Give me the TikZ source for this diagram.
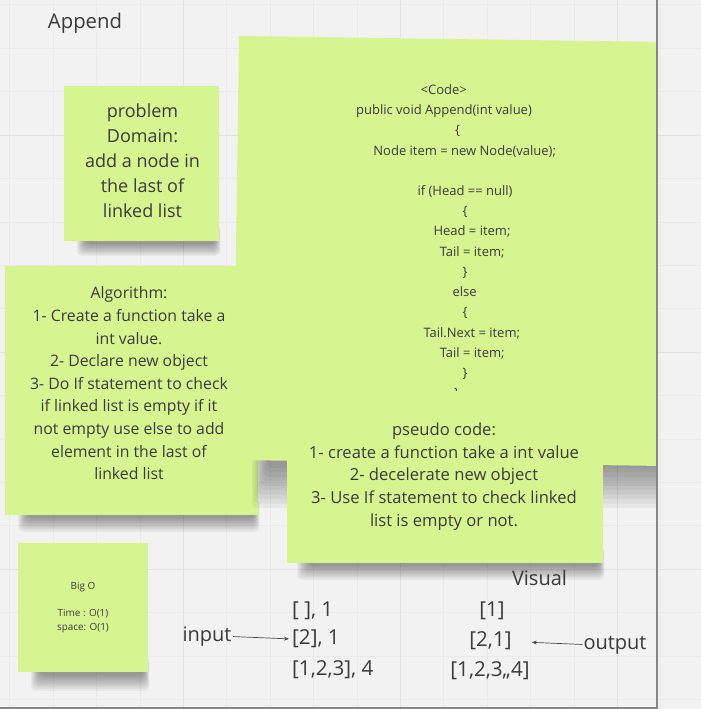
\documentclass[tikz,border=0pt]{standalone}
\usepackage{fontspec}
\setmainfont{Open Sans}
\usetikzlibrary{arrows.meta}
\definecolor{bg}{HTML}{F2F2F2}
\definecolor{gridmin}{HTML}{EAEAEA}
\definecolor{gridmaj}{HTML}{E2E2E2}
\definecolor{note}{HTML}{D6F590}
\definecolor{ink}{HTML}{3A3A3A}
\definecolor{framec}{HTML}{858585}
\definecolor{arrowc}{HTML}{4A4A4A}
\newcommand\myshadow[5]{% left, right, bottom, spread, left spread
  \foreach \k in {0,...,9}
    \fill[black,opacity=0.045,rounded corners=5pt]
      ({#1+22-#5*\k/9},{#3-8-\k}) rectangle ({#2-4+0.6*\k},{#3+3+#4*\k/9});
}
\begin{document}
\begin{tikzpicture}[x=1pt,y=-1pt,
  notebox/.style={draw=none,fill=note,inner sep=0pt},
  ln/.style={text=ink,inner sep=0pt,text height=1.1em,text depth=0.04em},
  fpd/.style={ln,font=\fontsize{18}{25}\selectfont},
  falg/.style={ln,font=\fontsize{15.8}{22}\selectfont},
  fcode/.style={ln,font=\fontsize{13}{20}\selectfont},
  fps/.style={ln,font=\fontsize{16.6}{22}\selectfont},
  fbig/.style={ln,font=\fontsize{9.9}{13}\selectfont},
  flbl/.style={ln,font=\fontsize{20}{24}\selectfont},
  flist/.style={ln,font=\fontsize{20.6}{24}\selectfont},
  conn/.style={draw=arrowc,line width=0.7pt,-{Stealth[length=5pt,width=4pt]}}
]
\fill[bg] (0,0) rectangle (701,709);
\useasboundingbox (0,0) rectangle (701,709);
% grid
\foreach \i in {0,...,16} {
  \draw[gridmin,line width=0.6pt] ({9.7+43.4*\i},0) -- ({9.7+43.4*\i},709);
  \draw[gridmin,line width=0.6pt] (0,{4.8+43.4*\i}) -- (701,{4.8+43.4*\i});
}
\foreach \v in {183.3,400.3,617.3} \draw[gridmaj,line width=1pt] (\v,0) -- (\v,709);
\foreach \v in {135,352,569} \draw[gridmaj,line width=1pt] (0,\v) -- (701,\v);

\begin{scope}
\clip (0,0) rectangle (656.5,707);
% problem domain note
\myshadow{64}{219}{241}{12}{9}
\node[notebox,minimum width=155pt,minimum height=155pt] (pd) at (141.5,163.5) {};
\foreach \y/\t [count=\n] in {112/problem,137/Domain:,162/add a node in,187/the last of,212/linked list}
  \node[fpd] (pd\n) at (142.5,\y) {\t};

% algorithm note
\myshadow{5}{258}{515}{14}{9}
\node[notebox,minimum width=253pt,minimum height=249pt] (alg) at (131.5,390.5) {};
\foreach \y/\t [count=\n] in {293.5/Algorithm:,316/1- Create a function take a,338.7/int value.,
  361.3/2- Declare new object,384/3- Do If statement to check,406.6/if linked list is empty if it,
  429.2/not empty use else to add,451.8/element in the last of,474.4/linked list}
  \node[falg] (alg\n) at (129,\y) {\t};

% code note
\myshadow{245}{665}{465}{40}{15}
\node[notebox,minimum width=430pt,minimum height=424pt,rotate=-0.8] (code) at (451,251) {};
\foreach \x/\y/\t [count=\n] in {443.7/89/<Code>,444/109.2/public void Append(int value),
  457.7/129.5/\{,464.7/149.7/Node item = new Node(value);,
  465/190.2/if (Head == null),465/210.4/\{,472/230.6/Head = item;,472.2/250.8/Tail = item;,
  465/271/\},464.7/291.3/else,465/311.5/\{,471.8/331.8/Tail.Next = item;,
  472.2/352/Tail = item;,465/372.2/\},456.7/392.5/\}}
  \node[fcode] (code\n) at (\x,\y) {\t};

% pseudo code note, on top of the code note
\myshadow{287}{603}{563}{14}{12}
\node[notebox,minimum width=316pt,minimum height=172pt] (ps) at (445,477) {};
\foreach \y/\t [count=\n] in {430/pseudo code:,452.8/1- create a function take a int value,
  475.5/2- decelerate new object,498.3/3- Use If statement to check linked,521/list is empty or not.}
  \node[fps] (ps\n) at (444,\y) {\t};

% big O note
\myshadow{18}{148}{672}{16}{9}
\node[notebox,minimum width=130pt,minimum height=129pt] (big) at (83,607.5) {};
\node[fbig] (big1) at (83,584) {Big O};
\node[fbig] (big2) at (83,611.5) {Time : O(1)};
\node[fbig] (big3) at (83,625) {space: O(1)};
\end{scope}

% title
\node[flbl,font=\fontsize{20.3}{24}\selectfont] (title) at (85,23.5) {Append};

% visual area
\node[flist,anchor=west] (in1) at (292,611) {[ ], 1};
\node[flist,anchor=west] (in2) at (292,639) {[2], 1};
\node[flist,anchor=west] (in3) at (292,670) {[1,2,3], 4};
\node[flbl] (vis) at (539.5,580.5) {Visual};
\node[flist] (out1) at (492,611) {[1]};
\node[flist] (out2) at (490.5,641.5) {[2,1]};
\node[flist] (out3) at (490,671) {[1,2,3,,4]};
\node[flbl] (input) at (207,636.5) {input};
\node[flbl] (output) at (615,644.5) {output};
\draw[conn,shorten <=1.5pt,shorten >=3pt] (input.east) -- (in2.west);
\draw[conn,shorten <=1pt,shorten >=20pt] (output.west) -- (out2.east);

% frame
\draw[framec,line width=2pt] (657,0) -- (657,708) -- (0,708);
\end{tikzpicture}
\end{document}
